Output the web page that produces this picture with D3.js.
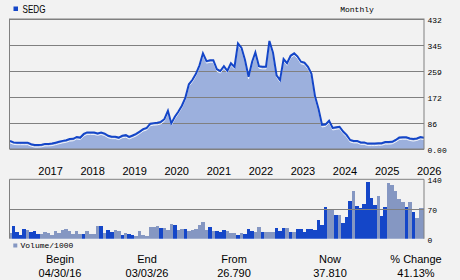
<!DOCTYPE html>
<html>
<head>
<meta charset="utf-8">
<script src="https://cdn.jsdelivr.net/npm/d3@7"></script>
<style>
	body { margin: 0; background: #f2f2f2; }
	text { fill: #000; }
	.mono { font-family: "Liberation Mono", "DejaVu Sans Mono", monospace; font-size: 8px; }
	.sans { font-family: "Liberation Sans", Arial, sans-serif; font-size: 11px; }
</style>
</head>
<body>
<div id="chart-area"></div>
<script>
// SEDG monthly closes, Apr 2016 .. Jan 2026 (month ends) + 03/03/26
const prices = [
	27, 22, 21, 21, 21, 21, 16, 13, 13, 14,
	17, 17, 18, 21, 24, 27, 29, 33, 34, 40,
	38, 50, 55, 55, 55, 52, 55, 51, 44, 41,
	41, 38, 44, 46, 40, 45, 50, 58, 66, 70,
	84, 86, 87, 90, 99, 127, 85, 107, 124, 144,
	170, 215, 230, 250, 278, 318, 292, 295, 295, 265,
	259, 275, 260, 285, 273, 351, 336, 296, 240, 290,
	321, 275, 273, 273, 359, 320, 245, 229, 299, 285,
	310, 318, 308, 290, 287, 273, 250, 175, 132, 80,
	82, 94, 70, 72, 74, 58, 47, 30, 27, 27,
	22, 22, 18, 18, 18, 19, 19, 23, 23, 24,
	30, 38, 39, 39, 35, 33, 35, 40, 37.81
]

// volume / 1000, same months
const volumes = [
	12.6, 30, 16.5, 9, 23, 20.5, 16, 18, 11, 11,
	16, 13, 9, 18, 14, 20.5, 23, 18, 11, 18,
	11, 11, 18, 11, 11, 30, 30, 13, 20.5, 16,
	20.5, 18, 9, 13, 11, 9, 6, 18, 9, 6,
	28, 27, 30, 25, 25, 20.5, 35, 32, 20.5, 23,
	23, 18, 20.5, 23, 32, 39, 20, 27.5, 18, 18,
	16, 20.5, 18, 12.5, 14, 9, 13, 11, 23, 18,
	16, 27.5, 16, 16, 16, 16, 25, 18, 25, 26,
	16, 16, 23, 23, 16, 23, 23, 20, 44, 32,
	75, 71, 71, 56, 56, 37, 51, 89, 112.5, 77,
	72, 82, 134, 96, 79.5, 101, 53.5, 75, 131, 127,
	112.5, 94, 87, 75, 87, 63, 49, 72, 72
]

// 1 = dark bar, 0 = light bar
const volUp = [
	0, 1, 1, 1, 1, 0, 1, 1, 1, 0,
	0, 0, 0, 0, 0, 0, 0, 0, 0, 0,
	0, 1, 0, 0, 0, 0, 1, 0, 1, 1,
	0, 0, 1, 0, 1, 1, 0, 0, 0, 0,
	0, 0, 0, 1, 0, 0, 0, 1, 0, 0,
	1, 0, 0, 0, 0, 0, 0, 1, 0, 1,
	1, 1, 0, 0, 0, 1, 0, 1, 1, 1,
	0, 0, 1, 0, 0, 0, 1, 1, 1, 0,
	1, 0, 1, 1, 1, 1, 1, 1, 1, 1,
	1, 0, 0, 1, 0, 1, 1, 1, 0, 1,
	1, 1, 1, 1, 1, 0, 1, 1, 0, 0,
	0, 0, 0, 1, 0, 1, 0, 0, 0
]

const years = [2017, 2018, 2019, 2020, 2021, 2022, 2023, 2024, 2025, 2026]
const priceTicks = [0, 86.4, 172.8, 259.2, 345.6, 432]
const priceTickLabels = ["0.00", "86", "172", "259", "345", "432"]
const volTicks = [0, 70, 140]
const volTickLabels = ["0", "70", "140"]

const summaryHeads = ["Begin", "End", "From", "Now", "% Change"]
const summaryValues = ["04/30/16", "03/03/26", "26.790", "37.810", "41.13%"]

const FIRST_DATE = new Date(2016, 3, 30)
const LAST_DATE = new Date(2026, 2, 3)

// month-end dates, last one is the quote date
const dates = prices.map((p, i) => i === prices.length - 1
	? LAST_DATE
	: d3.timeDay.offset(d3.timeMonth.offset(new Date(2016, 4, 1), i), -1))

const data = dates.map((d, i) => ({ date: d, price: prices[i], vol: volumes[i], up: volUp[i] }))

const BLUE = "#1446c8"
const LIGHT = "#8597c2"
const FILL = "#9cb0dd"
const GRID = "#808080"

const PLOT = { LEFT: 10, RIGHT: 424 }
const PRICE = { TOP: 19, BOTTOM: 149 }
const VOL = { TOP: 179.3, BOTTOM: 238.7 }

const svg = d3.select("#chart-area").append("svg")
	.attr("width", 460)
	.attr("height", 280)
	.style("display", "block")

svg.append("rect")
	.attr("width", 460)
	.attr("height", 280)
	.attr("fill", "#f2f2f2")

const x = d3.scaleTime()
	.domain([FIRST_DATE, LAST_DATE])
	.range([PLOT.LEFT, PLOT.RIGHT])
const y = d3.scaleLinear()
	.domain([0, 432])
	.range([PRICE.BOTTOM, PRICE.TOP])
const yVol = d3.scaleLinear()
	.domain([0, 140])
	.range([VOL.BOTTOM, VOL.TOP])

svg.append("clipPath").attr("id", "volClip")
	.append("rect")
	.attr("x", PLOT.LEFT)
	.attr("y", VOL.TOP)
	.attr("width", PLOT.RIGHT - PLOT.LEFT)
	.attr("height", VOL.BOTTOM - VOL.TOP)

// Legend
svg.append("rect")
	.attr("x", 13.5).attr("y", 6.5)
	.attr("width", 4.5).attr("height", 4.5)
	.attr("fill", BLUE)
svg.append("text")
	.attr("class", "sans")
	.attr("x", 22.5)
	.attr("y", 12.7)
	.attr("textLength", 23)
	.attr("lengthAdjust", "spacingAndGlyphs")
	.text("SEDG")
svg.append("text")
	.attr("class", "mono")
	.attr("x", 357)
	.attr("y", 12)
	.attr("text-anchor", "middle")
	.text("Monthly")

// Price area + line
const area = d3.area()
	.x(d => x(d.date))
	.y0(y(0))
	.y1(d => y(d.price))
const line = d3.line()
	.x(d => x(d.date))
	.y(d => y(d.price))

svg.append("path")
	.datum(data)
	.attr("d", area)
	.attr("fill", FILL)

// Price grid + right axis
const yAxisCall = d3.axisRight(y)
	.tickValues(priceTicks)
	.tickSize(-(PLOT.RIGHT - PLOT.LEFT))
	.tickFormat((d, i) => priceTickLabels[i])
const yAxis = svg.append("g")
	.attr("transform", `translate(${PLOT.RIGHT}, 0)`)
	.call(yAxisCall)
yAxis.select(".domain").remove()
yAxis.selectAll("line").attr("stroke", GRID).attr("stroke-width", 1)
yAxis.selectAll("text")
	.attr("class", "mono")
	.attr("x", 3.5)
	.attr("dy", "0.45em")
	.attr("fill", "#000")

svg.append("path")
	.datum(data)
	.attr("d", line)
	.attr("fill", "none")
	.attr("stroke", "#f4f6fb")
	.attr("stroke-width", 1)
	.attr("transform", "translate(0, 2)")
svg.append("path")
	.datum(data)
	.attr("d", line)
	.attr("fill", "none")
	.attr("stroke", BLUE)
	.attr("stroke-width", 2)

svg.append("rect")
	.attr("x", PLOT.LEFT - 0.5)
	.attr("y", PRICE.TOP)
	.attr("width", PLOT.RIGHT - PLOT.LEFT + 0.5)
	.attr("height", PRICE.BOTTOM - PRICE.TOP)
	.attr("fill", "none")
	.attr("stroke", GRID)

// Year labels
svg.selectAll(".year")
	.data(years)
	.enter().append("text")
	.attr("class", "sans year")
	.attr("x", d => x(new Date(d, 0, 1)))
	.attr("y", 174.5)
	.text(d => d)

// Volume bars
const edge = i => {
	if (i < 0) return PLOT.LEFT - 10
	if (i >= data.length) return PLOT.RIGHT + 10
	return x(data[i].date)
}
svg.append("g")
	.attr("clip-path", "url(#volClip)")
	.selectAll("rect")
	.data(data)
	.enter().append("rect")
	.attr("x", (d, i) => (edge(i - 1) + edge(i)) / 2)
	.attr("width", (d, i) => (edge(i + 1) - edge(i - 1)) / 2)
	.attr("y", d => yVol(d.vol))
	.attr("height", d => yVol(0) - yVol(d.vol))
	.attr("fill", d => d.up ? BLUE : LIGHT)
	.attr("shape-rendering", "crispEdges")

const volAxisCall = d3.axisRight(yVol)
	.tickValues(volTicks)
	.tickSize(-(PLOT.RIGHT - PLOT.LEFT))
	.tickFormat((d, i) => volTickLabels[i])
const volAxis = svg.append("g")
	.attr("transform", `translate(${PLOT.RIGHT}, 0)`)
	.call(volAxisCall)
volAxis.select(".domain").remove()
volAxis.selectAll("line")
	.attr("stroke", GRID)
	.attr("stroke-width", 1)
	.attr("display", d => d === 70 ? null : "none")
volAxis.selectAll("text")
	.attr("class", "mono")
	.attr("x", 3.5)
	.attr("dy", "0.45em")
	.attr("fill", "#000")

svg.append("path")
	.attr("d", `M${PLOT.LEFT - 0.5},${VOL.BOTTOM}V${VOL.TOP}H${PLOT.RIGHT}V${VOL.BOTTOM}`)
	.attr("fill", "none")
	.attr("stroke", GRID)

// Volume legend
svg.append("rect")
	.attr("x", 13.3).attr("y", 243.5)
	.attr("width", 4).attr("height", 4)
	.attr("fill", LIGHT)
svg.append("text")
	.attr("class", "mono")
	.attr("x", 20.5)
	.attr("y", 248.3)
	.text("Volume/1000")

// Summary
const cols = [60, 147, 234, 330, 416]
svg.selectAll(".head")
	.data(summaryHeads)
	.enter().append("text")
	.attr("class", "sans head")
	.attr("x", (d, i) => cols[i])
	.attr("y", 263)
	.attr("text-anchor", "middle")
	.text(d => d)
svg.selectAll(".val")
	.data(summaryValues)
	.enter().append("text")
	.attr("class", "sans val")
	.attr("x", (d, i) => cols[i])
	.attr("y", 277)
	.attr("text-anchor", "middle")
	.text(d => d)
</script>
</body>
</html>
